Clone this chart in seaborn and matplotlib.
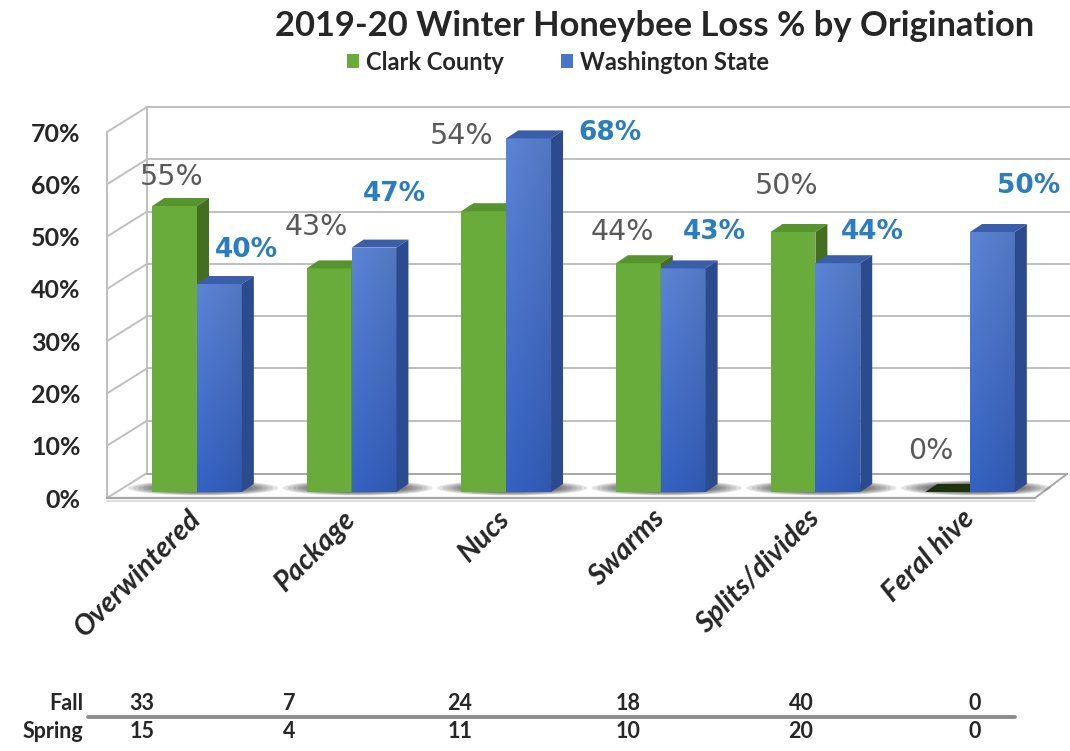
import numpy as np
import pandas as pd
import matplotlib
matplotlib.use("Agg")
import matplotlib.pyplot as plt
import seaborn as sns
from matplotlib.patches import Polygon, Ellipse
from matplotlib.lines import Line2D
from matplotlib.transforms import IdentityTransform

# ---- data -------------------------------------------------------------
categories = ["Overwintered", "Package", "Nucs", "Swarms", "Splits/divides", "Feral hive"]
clark_county = [55, 43, 54, 44, 50, 0]
washington_state = [40, 47, 68, 43, 44, 50]
series_names = ["Clark County", "Washington State"]
y_ticks = [0, 10, 20, 30, 40, 50, 60, 70]
fall_counts = [33, 7, 24, 18, 40, 0]
spring_counts = [15, 4, 11, 10, 20, 0]

# ---- label placement (pixel offsets from each bar's top centre) ------
clark_label_offsets = [(-3, 29), (-13, 41), (-22, 75), (-16, 31), (-6, 46), (-17, 41)]
wa_label_offsets = [(27, 34), (20, 54), (81, 5), (31, 36), (35, 31), (36, 46)]
table_x = [142, 289, 460, 628, 801, 975]

df = pd.DataFrame({
    "origination": categories * 2,
    "loss": clark_county + washington_state,
    "region": [series_names[0]] * len(categories) + [series_names[1]] * len(categories),
})

# ---- style ------------------------------------------------------------
W, H, DPI = 1070, 751, 100
GREEN, GREEN_TOP, GREEN_SIDE = "#6AAC3C", "#58942E", "#446F22"
BLUE, BLUE_TOP, BLUE_SIDE = "#4A74CC", "#3B5EAB", "#2C4A8E"
GRID = "#BFBFBF"
TEXT = "#262626"

sns.set_theme(style="white")
plt.rcParams["font.family"] = ["Lato", "DejaVu Sans"]

fig = plt.figure(figsize=(W / DPI, H / DPI), dpi=DPI)
fig.patch.set_facecolor("white")


def px_rect(left, top, right, bottom):
    return [left / W, 1 - bottom / H, (right - left) / W, (bottom - top) / H]


# front plane of the box (pixels from top-left) and depth of the walls
FL, FR, FT, FB = 107, 1035, 132, 498
DEPTH_X, DEPTH_Y = 40, 25

# ---- walls and floor ---------------------------------------------------
wall = fig.add_axes(px_rect(FL, FT, FR, FB))
wall.set_xlim(0, 1)
wall.set_ylim(0, 70)
wall.patch.set_visible(False)
for s in wall.spines.values():
    s.set_visible(False)


def wline(xs, ys, **kw):
    ln = Line2D(xs, ys, transform=IdentityTransform(), clip_on=False,
                color=kw.pop("color", GRID), lw=kw.pop("lw", 1.4), zorder=0, **kw)
    wall.add_line(ln)


x_front = wall.transData.transform((0, 0))[0]
x_right = wall.transData.transform((1, 0))[0]
for v in y_ticks:
    yf = wall.transData.transform((0, v))[1]
    yb = yf + DEPTH_Y
    # side wall diagonal
    wline([x_front, x_front + DEPTH_X], [yf, yb])
    # back wall gridline
    if v > 0:
        wline([x_front + DEPTH_X, W + 5], [yb, yb])
y0f = wall.transData.transform((0, 0))[1]
y70f = wall.transData.transform((0, 70))[1]
wline([x_front, x_front], [y0f, y70f])
wline([x_front + DEPTH_X, x_front + DEPTH_X], [y0f + DEPTH_Y, y70f + DEPTH_Y])
# floor
wline([x_front, x_right], [y0f, y0f], color="#A6A6A6", lw=1.6)
wline([x_front, x_right], [y0f - 2.5, y0f - 2.5], color="#D9D9D9", lw=1.2)
wline([x_front + DEPTH_X, x_right + 32], [y0f + DEPTH_Y - 1, y0f + DEPTH_Y - 1], color="#A6A6A6", lw=1.4)
wline([x_right, x_right + 32], [y0f, y0f + DEPTH_Y - 1], color="#A6A6A6", lw=1.4)

wall.set_xticks([])
wall.set_yticks(y_ticks)
wall.set_yticklabels([f"{v}%" for v in y_ticks], fontsize=18, fontweight="bold", color=TEXT)
wall.tick_params(axis="y", length=0, pad=19)

# ---- bars ---------------------------------------------------------------
ax = fig.add_axes(px_rect(FL, FT, FR, FB))
ax.patch.set_visible(False)
sns.barplot(data=df, x="origination", y="loss", hue="region",
            palette=[GREEN, BLUE], saturation=1, width=0.58, errorbar=None,
            linewidth=0, edgecolor="none", ax=ax)
handles, labels = ax.get_legend_handles_labels()
if ax.get_legend() is not None:
    ax.get_legend().remove()

XLIM = ((FL - 197) / 154.6, (FR - 197) / 154.6)
YLIM = ((492 - FB) / 5.2, (492 - FT) / 5.2)


def fix_limits():
    ax.set_xlim(*XLIM)
    ax.set_ylim(*YLIM)


fix_limits()
for s in ax.spines.values():
    s.set_visible(False)
ax.set_xlabel("")
ax.set_ylabel("")
ax.set_yticks([])

green_bars, blue_bars = ax.containers[0], ax.containers[1]
for b in green_bars:
    b.set_zorder(2.0)
for b in blue_bars:
    b.set_zorder(2.4)

# soft vertical shading on the blue columns
grad = np.linspace(0, 1, 64)[:, None] * np.ones((1, 16))
horiz = np.linspace(0, 1, 16)[None, :] * np.ones((64, 1))
top_rgb = np.array(matplotlib.colors.to_rgb("#5C84D6"))
bot_rgb = np.array(matplotlib.colors.to_rgb("#3562C3"))
img = top_rgb[None, None, :] * (1 - grad[..., None]) + bot_rgb[None, None, :] * grad[..., None]
img = img * (1 - 0.10 * horiz[..., None])
for b in blue_bars:
    x0, w, h = b.get_x(), b.get_width(), b.get_height()
    if h <= 0:
        continue
    im = ax.imshow(img, extent=[x0, x0 + w, 0, h], aspect="auto", origin="upper",
                   zorder=2.45, interpolation="bilinear")
    im.set_clip_path(b)
fix_limits()

# 3-D caps and side faces built from the bar geometry
DX, DY = 12, 8
for bars, top_c, side_c, z in [(green_bars, GREEN_TOP, GREEN_SIDE, 2.1),
                               (blue_bars, BLUE_TOP, BLUE_SIDE, 2.5)]:
    for b in bars:
        x0, w, h = b.get_x(), b.get_width(), b.get_height()
        px0, py0 = ax.transData.transform((x0, 0))
        px1, py1 = ax.transData.transform((x0 + w, h))
        top = [(px0, py1), (px1, py1), (px1 + DX, py1 + DY), (px0 + DX, py1 + DY)]
        side = [(px1, py0), (px1, py1), (px1 + DX, py1 + DY), (px1 + DX, py0 + DY)]
        tc = top_c if h > 0 else "#1E3210"
        ax.add_patch(Polygon(top, closed=True, facecolor=tc, edgecolor="none",
                             transform=IdentityTransform(), zorder=z, clip_on=False))
        ax.add_patch(Polygon(side, closed=True, facecolor=side_c, edgecolor="none",
                             transform=IdentityTransform(), zorder=z, clip_on=False))

# floor shadows under each pair of columns
for gb, bb in zip(green_bars, blue_bars):
    cx = ax.transData.transform((gb.get_x() + gb.get_width(), 0))[0]
    cy = ax.transData.transform((0, 0))[1]
    for k in range(9):
        wdt = 150 - k * 10
        hgt = 15 - k * 1.1
        ax.add_patch(Ellipse((cx + 6, cy + 4), wdt, hgt, facecolor="black",
                             edgecolor="none", alpha=0.11, transform=IdentityTransform(),
                             zorder=1.5, clip_on=False))

# value labels
for bars, vals, offs, color, weight, size in [
        (green_bars, clark_county, clark_label_offsets, "#595959", "normal", 20.5),
        (blue_bars, washington_state, wa_label_offsets, "#2A7DC0", "bold", 19)]:
    for b, v, (ox, oy) in zip(bars, vals, offs):
        ax.annotate(f"{v}%", (b.get_x() + b.get_width() / 2, b.get_height()),
                    xytext=(ox, oy), textcoords="offset pixels", ha="center", va="center",
                    fontsize=size, fontweight=weight, color=color,
                    family=["DejaVu Sans"], zorder=5, annotation_clip=False)

# category labels
ax.set_xticks(range(len(categories)))
ax.set_xticklabels(categories, fontsize=20.5, fontweight="bold", fontstyle="italic", color=TEXT)
plt.setp(ax.get_xticklabels(), rotation=45, ha="right", va="center", rotation_mode="anchor")
ax.tick_params(axis="x", length=0, pad=12)
fix_limits()

# ---- title and legend ---------------------------------------------------
fig.text(655 / W, 1 - 26 / H, "2019-20 Winter Honeybee Loss % by Origination",
         ha="center", va="center", fontsize=24.8, fontweight="bold", color=TEXT)
fig.legend(handles, labels, loc="center", bbox_to_anchor=(558 / W, 1 - 62 / H),
           ncol=2, frameon=False, handlelength=0.5, handleheight=0.5,
           handletextpad=0.3, columnspacing=2.4,
           prop=dict(weight="bold", size=17))
for t in fig.legends[0].get_texts():
    t.set_color(TEXT)

# ---- Fall / Spring table ----------------------------------------------
row_y = [1 - 703 / H, 1 - 731 / H]
for yy, name, counts in zip(row_y, ["Fall", "Spring"], [fall_counts, spring_counts]):
    fig.text(83 / W, yy, name, ha="right", va="center", fontsize=15.5,
             fontweight="bold", color=TEXT)
    for xx, c in zip(table_x, counts):
        fig.text(xx / W, yy, str(c), ha="center", va="center", fontsize=15.5,
                 fontweight="bold", color=TEXT)
fig.add_artist(Line2D([88 / W, 1015 / W], [1 - 717 / H, 1 - 717 / H],
                      transform=fig.transFigure, color="#8C8C8C", lw=2.8))

fig.savefig("out.png", dpi=DPI, facecolor="white")
